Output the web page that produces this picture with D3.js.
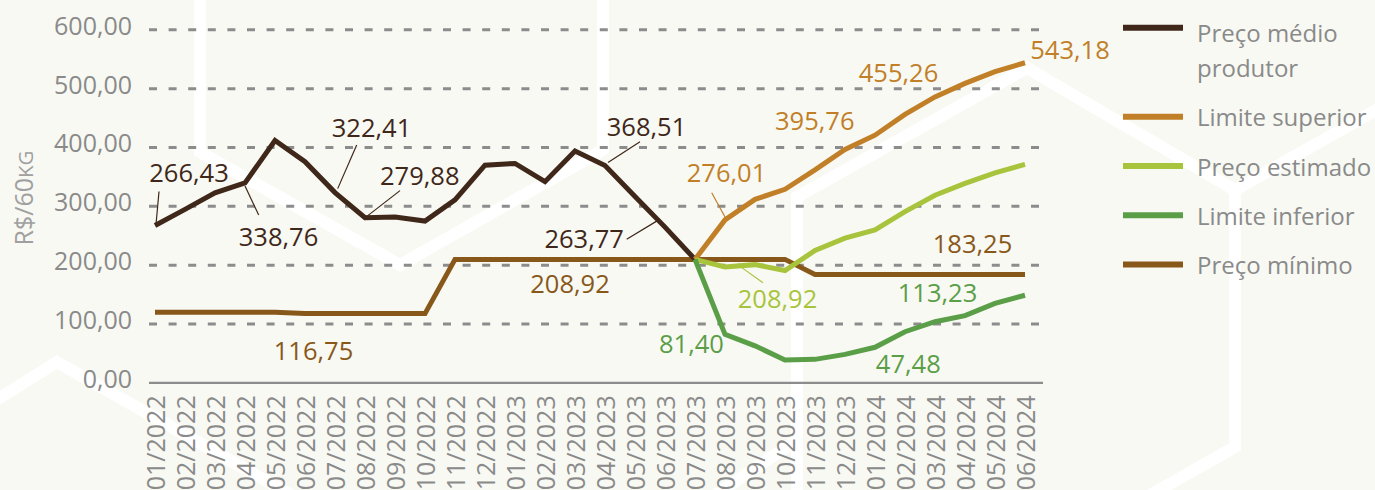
<!DOCTYPE html>
<html lang="pt-BR">
<head>
<meta charset="utf-8">
<title>Preço médio ao produtor e projeções</title>
<script src="https://cdn.jsdelivr.net/npm/d3@7/dist/d3.min.js"></script>
<style>
  html, body { margin: 0; padding: 0; background: #f8f9f3; }
  svg { display: block; font-family: "Open Sans", "Noto Sans", sans-serif; }
</style>
</head>
<body>
<svg id="chart" width="1375" height="490"></svg>
<script>
// Months on the x axis (tick labels)
const months = [
  "01/2022","02/2022","03/2022","04/2022","05/2022","06/2022","07/2022","08/2022","09/2022","10/2022","11/2022","12/2022",
  "01/2023","02/2023","03/2023","04/2023","05/2023","06/2023","07/2023","08/2023","09/2023","10/2023","11/2023","12/2023",
  "01/2024","02/2024","03/2024","04/2024","05/2024","06/2024"
];
const yTicks = [0, 100, 200, 300, 400, 500, 600];

// Preço médio ao produtor, 01/2022 – 07/2023 (R$/60kg)
const precoMedio = [266.43, 294, 322, 338.76, 411, 375, 322.41, 279.88, 281, 274, 310, 369,
                    372, 341, 393, 368.51, 316, 263.77, 208.92];
// Projections, 07/2023 – 06/2024
const limiteSuperior = [208.92, 276.01, 311, 328, 361, 395.76, 420, 455.26, 485, 508, 528, 543.18];
const precoEstimado  = [208.92, 196, 200, 190, 224, 245, 259, 290, 318, 338, 356, 370.5];
const limiteInferior = [208.92, 81.40, 62, 38, 39, 47.48, 59.5, 86, 103, 113.23, 134, 148];
// Preço mínimo, 01/2022 – 06/2024
const precoMinimo = [119.2, 119.2, 119.2, 119.2, 119.2, 116.75, 116.75, 116.75, 116.75, 116.75,
                     208.92, 208.92, 208.92, 208.92, 208.92, 208.92, 208.92, 208.92, 208.92, 208.92, 208.92, 208.92,
                     183.25, 183.25, 183.25, 183.25, 183.25, 183.25, 183.25, 183.25];

const series = [
  { key: "minimo",   name: ["Preço mínimo"],            color: "#88581a", start: 0,  values: precoMinimo },
  { key: "medio",    name: ["Preço médio", "produtor"], color: "#3f2719", start: 0,  values: precoMedio },
  { key: "superior", name: ["Limite superior"],         color: "#c17f28", start: 18, values: limiteSuperior },
  { key: "estimado", name: ["Preço estimado"],          color: "#a8c43c", start: 18, values: precoEstimado },
  { key: "inferior", name: ["Limite inferior"],         color: "#5b9e48", start: 18, values: limiteInferior }
];
const byKey = Object.fromEntries(series.map(s => [s.key, s]));
const legendOrder = ["medio", "superior", "estimado", "inferior", "minimo"];

// Value labels: series, index within the series, label offset and optional leader line
const annotations = [
  { s: "medio",    i: 0,  dx: 34,   dy: -43.5, leader: [4, -34, 1, -1] },
  { s: "medio",    i: 3,  dx: 33.5, dy: 63,    leader: [13.7, 32, 0, 3] },
  { s: "medio",    i: 6,  dx: 36.5, dy: -55.6, leader: [21.7, -47.6, 2.7, -4] },
  { s: "medio",    i: 7,  dx: 54.8, dy: -32.6, leader: [35, -27, 1.5, -1] },
  { s: "medio",    i: 15, dx: 41.5, dy: -29.5, leader: [35, -23.8, 3, -3] },
  { s: "medio",    i: 17, dx: -80.8, dy: 20.9, leader: [-38.3, 12.2, -6.7, -7] },
  { s: "superior", i: 1,  dx: 1.5,  dy: -37.9, leader: [-13.3, -27.2, 0.7, -1.6] },
  { s: "superior", i: 5,  dx: -30.2, dy: -19.5 },
  { s: "superior", i: 7,  dx: -6.5, dy: -32.5 },
  { s: "superior", i: 11, dx: 45,   dy: -3.7 },
  { s: "minimo",   i: 5,  dx: 8.5,  dy: 46.4 },
  { s: "minimo",   i: 15, dx: -35,  dy: 33.6 },
  { s: "minimo",   i: 27, dx: 7.5,  dy: -21.5 },
  { s: "estimado", i: 0,  dx: 82.5, dy: 48.6,  leader: [68, 23.3, 45, 7] },
  { s: "inferior", i: 1,  dx: -33.5, dy: 18.6 },
  { s: "inferior", i: 5,  dx: 63.3, dy: 18.6 },
  { s: "inferior", i: 9,  dx: -27.5, dy: -13.7 }
];

// Decorative white band network in the backdrop
const backdrop = [
  [[200, -10], [200, 152], [400, 265], [603, 150], [603, -10]],
  [[-10, 404], [57, 362], [300, 500]],
  [[797, 500], [797, 440], [797, 197], [1027, 68], [1235, 190], [1235, 447], [1150, 495]],
  [[1235, 190], [1385, 105]],
  [[797, 440], [715, 495]]
];

const locale = d3.formatLocale({ decimal: ",", thousands: ".", grouping: [3], currency: ["R$ ", ""] });
const fmt = locale.format(".2f");

const svg = d3.select("#chart");
const W = 1375, H = 490;
const plotLeft = 149, plotRight = 1043;

svg.append("rect").attr("width", W).attr("height", H).attr("fill", "#f8f9f3");

svg.append("g").selectAll("path").data(backdrop).join("path")
  .attr("d", d3.line())
  .attr("fill", "none")
  .attr("stroke", "#ffffff")
  .attr("stroke-width", 12)
  .attr("stroke-linejoin", "miter");

const x = d3.scalePoint().domain(months).range([155, 1025]);
const y = d3.scaleLinear().domain([0, 600]).range([382.3, 29.3]);

// Gridlines and y tick labels
const yAxis = d3.axisLeft(y).tickValues(yTicks).tickFormat(fmt)
  .tickSize(-(plotRight - plotLeft)).tickPadding(17);
const gy = svg.append("g").attr("transform", `translate(${plotLeft},0)`).call(yAxis);
gy.select(".domain").remove();
gy.selectAll(".tick line")
  .attr("stroke", "#8c8c8c")
  .attr("stroke-width", d => d === 0 ? 2.2 : 3)
  .attr("stroke-dasharray", d => d === 0 ? null : "8 11.6");
gy.selectAll(".tick text")
  .attr("fill", "#8a8a8a")
  .attr("font-size", 25)
  .attr("dy", "0.2em")
  .style("font-family", "'Open Sans', sans-serif");

// X axis labels, rotated
const xAxis = d3.axisBottom(x).tickSize(0).tickPadding(0);
const gx = svg.append("g").attr("transform", `translate(0,${y(0)})`).call(xAxis);
gx.select(".domain").remove();
gx.selectAll(".tick text")
  .attr("x", 0).attr("y", 0).attr("dy", "0.36em")
  .attr("transform", "translate(0,13) rotate(-90)")
  .attr("text-anchor", "end")
  .attr("fill", "#8a8a8a")
  .attr("font-size", 25)
  .style("font-family", "'Open Sans', sans-serif");

// Y axis title, unit in small capitals
const yTitle = svg.append("text")
  .attr("transform", "translate(33,198) rotate(-90)")
  .attr("text-anchor", "middle")
  .attr("fill", "#a0a0a0")
  .attr("font-size", 25);
yTitle.append("tspan").text("R$/60");
yTitle.append("tspan").attr("font-size", 20.5).text("KG");

// Series lines
const line = (s) => d3.line()
  .x((d, i) => x(months[s.start + i]))
  .y(d => y(d));

svg.append("g").selectAll("path").data(series).join("path")
  .attr("d", s => line(s)(s.values))
  .attr("fill", "none")
  .attr("stroke", s => s.color)
  .attr("stroke-width", 5)
  .attr("stroke-linejoin", "miter");

// Value labels with leader lines
const gl = svg.append("g");
annotations.forEach(a => {
  const s = byKey[a.s];
  const px = x(months[s.start + a.i]);
  const py = y(s.values[a.i]);
  if (a.leader) {
    gl.append("line")
      .attr("x1", px + a.leader[0]).attr("y1", py + a.leader[1])
      .attr("x2", px + a.leader[2]).attr("y2", py + a.leader[3])
      .attr("stroke", s.color).attr("stroke-width", 1.2);
  }
  gl.append("text")
    .attr("x", px + a.dx).attr("y", py + a.dy)
    .attr("text-anchor", "middle")
    .attr("fill", s.color)
    .attr("font-size", 25.5)
    .text(fmt(s.values[a.i]));
});

// Legend
const legendRows = legendOrder.map(k => byKey[k]);
let rowY = 32.2;
const gLeg = svg.append("g");
legendRows.forEach((s, idx) => {
  const lineY = idx === 0 ? rowY - 4.5 : rowY;
  gLeg.append("line")
    .attr("x1", 1123).attr("x2", 1183)
    .attr("y1", lineY).attr("y2", lineY)
    .attr("stroke", s.color).attr("stroke-width", 6);
  const t = gLeg.append("text")
    .attr("x", 1197).attr("y", rowY + 9.5)
    .attr("fill", "#8a8a8a")
    .attr("font-size", 24);
  s.name.forEach((n, j) => {
    t.append("tspan").attr("x", 1197).attr("dy", j === 0 ? 0 : 35).text(n);
  });
  rowY += idx === 0 ? 84.5 : 49.3;
});
</script>
</body>
</html>
